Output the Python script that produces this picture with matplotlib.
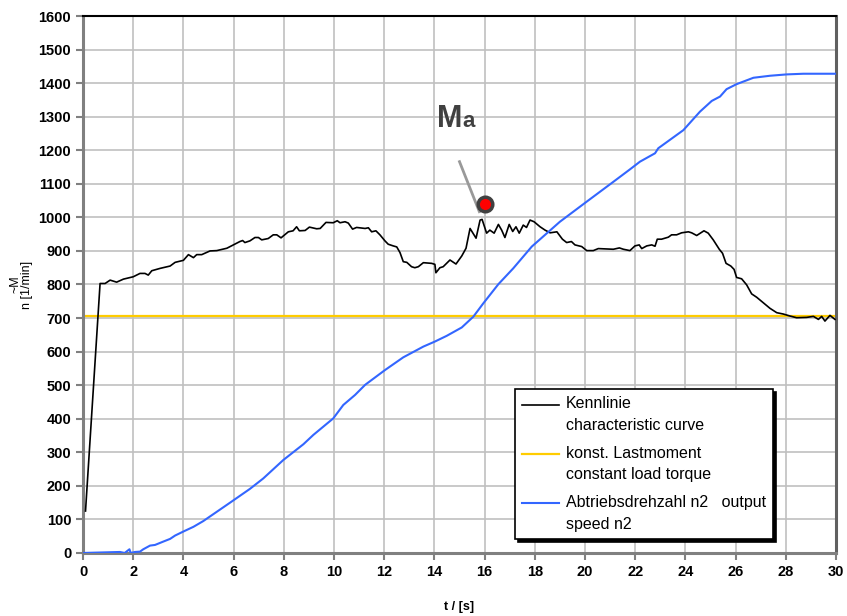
import matplotlib.pyplot as plt
from matplotlib.legend_handler import HandlerLine2D
import numpy as np

plt.rcParams['font.family'] = ['Liberation Sans', 'DejaVu Sans']

# Kennlinie (characteristic curve)
t_curve = [0.1, 0.68, 0.88, 1.08, 1.34, 1.61, 2.0, 2.27, 2.47, 2.6, 2.74, 3.07, 3.47, 3.67,
           4.0, 4.2, 4.4, 4.53, 4.73, 5.06, 5.33, 5.73, 5.99, 6.25, 6.36, 6.45, 6.65, 6.85,
           6.99, 7.12, 7.38, 7.58, 7.72, 7.89, 8.18, 8.37, 8.51, 8.62, 8.85, 9.02, 9.31,
           9.45, 9.68, 9.97, 10.13, 10.24, 10.44, 10.57, 10.74, 10.9, 11.24, 11.37, 11.5,
           11.67, 11.83, 12.03, 12.16, 12.36, 12.5, 12.63, 12.76, 12.9, 13.09, 13.22, 13.36,
           13.56, 13.89, 14.02, 14.06, 14.22, 14.35, 14.62, 14.86, 15.09, 15.26, 15.42,
           15.66, 15.82, 15.9, 16.08, 16.21, 16.38, 16.55, 16.68, 16.81, 16.98, 17.12,
           17.25, 17.38, 17.54, 17.67, 17.81, 17.97, 18.21, 18.41, 18.61, 18.88, 19.1,
           19.27, 19.46, 19.6, 19.87, 20.07, 20.33, 20.53, 21.13, 21.37, 21.53, 21.79,
           21.99, 22.16, 22.26, 22.46, 22.66, 22.79, 22.88, 23.05, 23.32, 23.45, 23.65,
           23.85, 24.12, 24.25, 24.45, 24.74, 24.91, 25.11, 25.35, 25.48, 25.62, 25.81,
           25.94, 26.04, 26.24, 26.44, 26.64, 26.84, 27.1, 27.37, 27.64, 27.9, 28.17,
           28.43, 28.83, 29.1, 29.3, 29.43, 29.56, 29.76, 29.96]
m_curve = [125, 803, 803, 813, 807, 816, 823, 833, 833, 828, 841, 848, 855, 866,
           872, 889, 880, 889, 889, 900, 901, 908, 918, 928, 931, 925, 930, 940,
           940, 933, 937, 948, 948, 939, 957, 960, 972, 960, 961, 971, 966,
           967, 985, 984, 990, 984, 987, 983, 965, 970, 967, 969, 957,
           960, 948, 930, 920, 915, 912, 895, 868, 866, 853, 850, 853,
           865, 863, 860, 835, 850, 853, 873, 861, 885, 908, 967,
           938, 992, 994, 953, 962, 953, 979, 962, 940, 979, 958,
           972, 953, 977, 970, 992, 987, 972, 962, 954, 957, 935,
           925, 928, 918, 913, 901, 901, 907, 905, 909, 905, 901,
           915, 918, 907, 915, 918, 914, 935, 935, 941, 948, 948,
           954, 957, 954, 946, 960, 953, 933, 905, 893, 863, 855,
           845, 821, 817, 799, 772, 762, 746, 729, 716, 712, 706,
           701, 702, 705, 696, 705, 691, 708, 696]

# konst. Lastmoment (constant load torque)
t_load = [0, 30]
m_load = [705, 705]

# Abtriebsdrehzahl n2 (output speed)
t_speed = [0, 1.47, 1.66, 1.85, 1.9, 2.07, 2.27, 2.4, 2.67, 2.87, 3.2, 3.47, 3.67, 4.0,
           4.4, 4.79, 5.86, 6.65, 7.18, 7.98, 8.78, 9.18, 9.97, 10.37, 10.84, 11.24,
           12.03, 12.76, 13.56, 14.02, 14.49, 15.09, 15.55, 15.95, 16.55, 17.14, 17.88,
           19.0, 20.07, 21.13, 21.79, 22.19, 22.79, 22.92, 23.92, 24.58, 25.05, 25.38,
           25.64, 26.04, 26.71, 27.37, 28.03, 28.7, 30.0]
n_speed = [0, 3, 0, 11, 0, 3, 4, 11, 22, 24, 34, 42, 52, 64,
           78, 95, 150, 191, 222, 277, 324, 352, 401, 441, 471, 501,
           545, 583, 615, 630, 647, 672, 704, 744, 801, 848, 913,
           987, 1047, 1106, 1143, 1166, 1191, 1206, 1260, 1315, 1347, 1360,
           1382, 1397, 1416, 1422, 1426, 1428, 1428]

# operating point Ma
t_ma, m_ma = 16.02, 1040


class FirstLineHandler(HandlerLine2D):
    # put the legend line next to the first text line instead of the middle
    def create_artists(self, legend, orig_handle, xdescent, ydescent, width, height,
                       fontsize, trans):
        artists = super().create_artists(legend, orig_handle, xdescent, ydescent,
                                          width, height, fontsize, trans)
        for a in artists:
            a.set_ydata(np.asarray(a.get_ydata()) + 7.5)
        return artists


fig = plt.figure(figsize=(8.47, 6.16), dpi=100)
ax = fig.add_axes([0.098, 0.1023, 0.889, 0.8717])

l1, = ax.plot(t_curve, m_curve, color='black', lw=1.2, label='Kennlinie\ncharacteristic curve', zorder=3)
l2, = ax.plot(t_load, m_load, color='#ffcc00', lw=1.6, label='konst. Lastmoment\nconstant load torque', zorder=2)
l3, = ax.plot(t_speed, n_speed, color='#3366ff', lw=1.5, label='Abtriebsdrehzahl n2   output\nspeed n2', zorder=3)

ax.plot([15.0, 15.79], [1166, 1017], color='#999999', lw=2, zorder=4)
ax.plot(t_ma, m_ma, 'o', ms=10.5, mfc='red', mec='#404040', mew=2.5, zorder=5)
ax.text(14.1, 1268, 'M', fontsize=22, fontweight='bold', color='#404040')
ax.text(15.1, 1268, 'a', fontsize=16, fontweight='bold', color='#404040')

ax.set_xlim(0, 30)
ax.set_ylim(0, 1600)
ax.set_xticks(np.arange(0, 31, 2))
ax.set_yticks(np.arange(0, 1601, 100))
ax.grid(True, color='#c0c0c0', lw=1.2)
ax.set_axisbelow(True)
ax.tick_params(axis='both', direction='out', length=5, width=1.5, color='#808080',
               labelsize=10.5)
for lab in ax.get_xticklabels() + ax.get_yticklabels():
    lab.set_fontweight('bold')

for side in ('left', 'bottom'):
    ax.spines[side].set_color('#808080')
    ax.spines[side].set_linewidth(2.2)
ax.spines['top'].set_color('black')
ax.spines['top'].set_linewidth(1.5)
ax.spines['right'].set_color('#606060')
ax.spines['right'].set_linewidth(2.2)

ax.set_xlabel('t / [s]', fontsize=9, fontweight='bold', labelpad=16)
ax.set_ylabel('~M\nn [1/min]', fontsize=9, labelpad=4, linespacing=0.95)

hmap = {l: FirstLineHandler() for l in (l1, l2, l3)}
leg = ax.legend(loc='upper left', bbox_to_anchor=(0.574, 0.305), borderaxespad=0,
                fontsize=11.5, frameon=True, fancybox=False,
                shadow={'color': 'black', 'alpha': 1},
                edgecolor='black', framealpha=1, handlelength=2.3,
                labelspacing=0.8, borderpad=0.45, handletextpad=0.4,
                handler_map=hmap)
leg.get_frame().set_linewidth(1.2)
for txt in leg.get_texts():
    txt.set_linespacing(1.55)

fig.savefig('out.png', dpi=100)
